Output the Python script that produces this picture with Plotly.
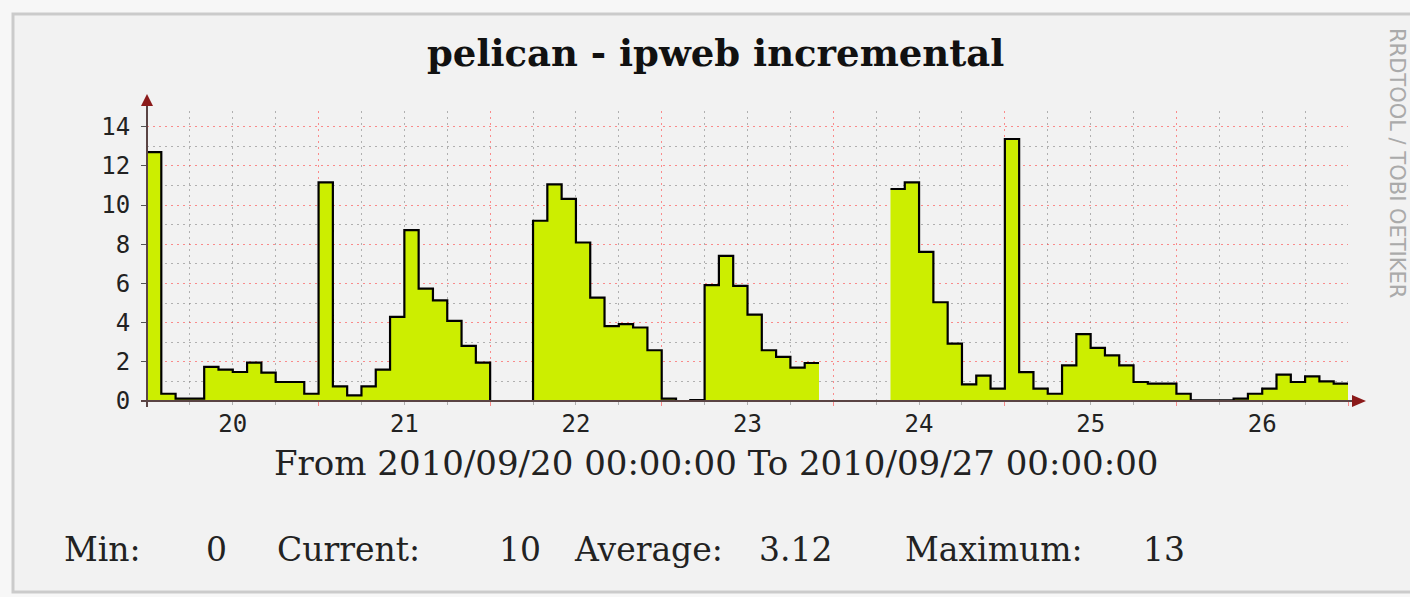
import plotly.graph_objects as go

# 2-hour averages, one list per day (12 steps), None = unknown
DAYS = [20, 21, 22, 23, 24, 25, 26]
DAY_20 = [12.7, 0.37, 0.12, 0.12, 1.74, 1.6, 1.48, 1.96, 1.45, 0.97, 0.97, 0.37]
DAY_21 = [11.16, 0.75, 0.29, 0.75, 1.6, 4.29, 8.72, 5.74, 5.14, 4.09, 2.81, 1.96]
DAY_22 = [0, 0, 0, 9.2, 11.06, 10.32, 8.09, 5.28, 3.82, 3.92, 3.75, 2.59]
DAY_23 = [0.12, 0, 0.05, 5.91, 7.41, 5.88, 4.41, 2.59, 2.25, 1.70, 1.94, None]
DAY_24 = [None, None, None, None, 10.82, 11.16, 7.61, 5.04, 2.93, 0.85, 1.29, 0.63]
DAY_25 = [13.37, 1.47, 0.63, 0.37, 1.82, 3.41, 2.71, 2.33, 1.82, 0.97, 0.89, 0.89]
DAY_26 = [0.37, 0.03, 0.03, 0.03, 0.12, 0.37, 0.63, 1.35, 0.97, 1.26, 1.0, 0.89]

TITLE = "pelican - ipweb incremental"
PERIOD = "From 2010/09/20 00:00:00 To 2010/09/27 00:00:00"
STATS = [("Min:", "0"), ("Current:", "10"), ("Average:", "3.12"), ("Maximum:", "13")]

W, H = 1410, 597
L, R, T, B = 147, 62, 111, 196
PW, PH = W - L - R, H - T - B

FILL = "#ccee00"
RED_GRID = "rgba(255, 70, 70, 0.6)"
GREY_GRID = "rgba(140, 140, 140, 0.65)"
DOTS = "2px,4px"
SERIF = "DejaVu Serif, serif"
MONO = "DejaVu Sans Mono, monospace"


def px(x):
    return (x - L) / PW


def py(y):
    return (H - B - y) / PH


# step path split into runs of known values
per_day = [DAY_20, DAY_21, DAY_22, DAY_23, DAY_24, DAY_25, DAY_26]
step = 1 / 12
segments = [([], [])]
for day, vals in zip(DAYS, per_day):
    for k, v in enumerate(vals):
        t = day - 0.5 + k * step
        if v is None:
            if segments[-1][0]:
                segments.append(([], []))
            continue
        segments[-1][0].extend([t, t + step])
        segments[-1][1].extend([v, v])
segments = [s for s in segments if s[0]]

fig = go.Figure()
for sx, sy in segments:
    fig.add_trace(go.Scatter(
        x=sx, y=sy, mode="lines", fill="tozeroy", fillcolor=FILL,
        line={"width": 0, "color": FILL}, hoverinfo="skip",
    ))
for sx, sy in segments:
    fig.add_trace(go.Scatter(
        x=sx, y=sy, mode="lines", line={"width": 2.2, "color": "#000000"},
    ))
# invisible trace to carry the day labels on the second x axis
fig.add_trace(go.Scatter(x=DAYS, y=[0] * len(DAYS), xaxis="x2", mode="markers",
                         marker={"opacity": 0}, hoverinfo="skip"))

fig.update_layout(
    width=W, height=H,
    margin={"l": L, "r": R, "t": T, "b": B},
    paper_bgcolor="#f7f7f7",
    plot_bgcolor="#ffffff",
    showlegend=False,
    font={"family": MONO, "color": "#222222"},
    xaxis={
        "range": [19.5, 26.5], "tick0": 19.5, "dtick": 1,
        "showticklabels": False, "showgrid": True, "gridcolor": RED_GRID,
        "griddash": DOTS, "gridwidth": 1, "zeroline": False,
        "ticks": "outside", "ticklen": 4, "tickcolor": RED_GRID,
        "minor": {"dtick": 0.25, "tick0": 19.5, "showgrid": True,
                  "gridcolor": GREY_GRID, "griddash": DOTS, "gridwidth": 1,
                  "ticks": "outside", "ticklen": 3, "tickcolor": GREY_GRID},
        "showline": False,
    },
    xaxis2={
        "overlaying": "x", "matches": "x", "side": "bottom",
        "tickvals": DAYS, "ticktext": [str(d) for d in DAYS],
        "showgrid": False, "zeroline": False, "ticks": "",
        "ticklabelstandoff": 6,
        "tickfont": {"size": 24, "family": MONO, "color": "#222222"},
    },
    yaxis={
        "range": [0, 14.8], "tick0": 0, "dtick": 2,
        "showgrid": True, "gridcolor": RED_GRID, "griddash": DOTS,
        "zeroline": False, "ticks": "outside", "ticklen": 5,
        "tickcolor": "#555555", "ticklabelstandoff": 6,
        "tickfont": {"size": 24, "family": MONO, "color": "#222222"},
        "minor": {"dtick": 1, "showgrid": True, "gridcolor": GREY_GRID,
                  "griddash": DOTS},
    },
)

shapes = [
    # frame
    {"type": "rect", "xref": "paper", "yref": "paper", "layer": "below",
     "x0": px(13), "x1": px(1440), "y0": py(592), "y1": py(14),
     "fillcolor": "#f2f2f2", "line": {"color": "#cbcbcb", "width": 3}},
    # axes with arrows
    {"type": "line", "xref": "paper", "yref": "paper",
     "x0": px(141), "x1": px(1356), "y0": 0, "y1": 0,
     "line": {"color": "#5a4444", "width": 2}},
    {"type": "line", "xref": "paper", "yref": "paper",
     "x0": 0, "x1": 0, "y0": py(407), "y1": py(100),
     "line": {"color": "#5a4444", "width": 2}},
    {"type": "path", "xref": "paper", "yref": "paper",
     "path": f"M {px(1352)},{py(395)} L {px(1366)},{py(401)} L {px(1352)},{py(407)} Z",
     "fillcolor": "#8b1a1a", "line": {"width": 0}},
    {"type": "path", "xref": "paper", "yref": "paper",
     "path": f"M {px(141)},{py(106)} L {px(147)},{py(94)} L {px(153)},{py(106)} Z",
     "fillcolor": "#8b1a1a", "line": {"width": 0}},
]
fig.update_layout(shapes=shapes)

ann = [
    {"text": f"<b>{TITLE}</b>", "x": px(715), "y": py(53),
     "font": {"family": SERIF, "size": 37, "color": "#111111"}},
    {"text": PERIOD, "x": px(716), "y": py(463),
     "font": {"family": SERIF, "size": 34, "color": "#222222"}},
    {"text": "RRDTOOL / TOBI OETIKER", "x": px(1397), "y": py(163),
     "textangle": 90,
     "font": {"family": "DejaVu Sans, sans-serif", "size": 21, "color": "#aaaaaa"}},
]
stat_x = [(62, 204), (275, 497), (572, 757), (903, 1141)]
for (label, value), (lx, vx) in zip(STATS, stat_x):
    ann.append({"text": label, "x": px(lx), "y": py(549), "xanchor": "left",
                "font": {"family": SERIF, "size": 33, "color": "#222222"}})
    ann.append({"text": value, "x": px(vx), "y": py(549), "xanchor": "left",
                "font": {"family": SERIF, "size": 33, "color": "#222222"}})
for a in ann:
    a.update({"xref": "paper", "yref": "paper", "showarrow": False})
    a.setdefault("xanchor", "center")
    a.setdefault("yanchor", "middle")
fig.update_layout(annotations=ann)

fig.write_html("out.html", config={"displayModeBar": False},
               post_script="document.body.style.margin = '0px';")
